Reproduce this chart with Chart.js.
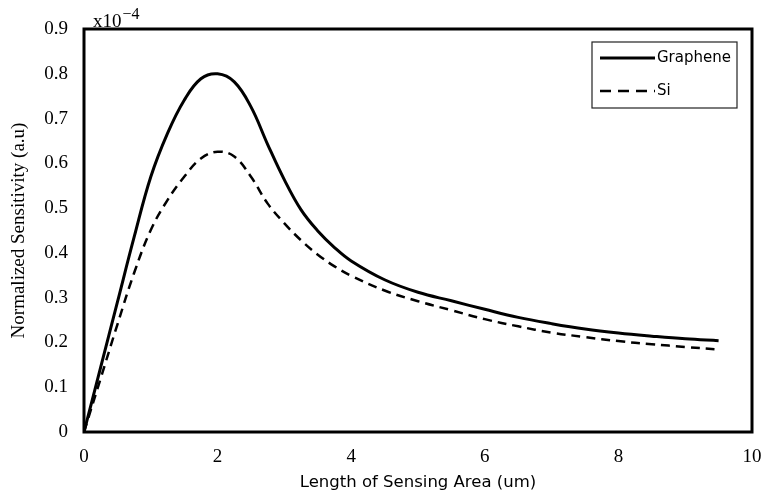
<!DOCTYPE html>
<html>
<head>
<meta charset="utf-8">
<script src="https://cdn.jsdelivr.net/npm/chart.js@4"></script>
<style>
  html, body { margin: 0; padding: 0; background: #fff; }
  #wrap { width: 763px; height: 493px; position: relative; }
</style>
</head>
<body>
<div id="wrap"><canvas id="c" width="763" height="493"></canvas></div>
<script>
// ---- data ----
const xValues = [0, 0.25, 0.5, 0.75, 1, 1.25, 1.5, 1.75, 2, 2.25, 2.5, 2.75, 3, 3.25, 3.5, 3.75, 4, 4.5, 5, 5.5, 6, 6.5, 7, 7.5, 8, 8.5, 9, 9.5];
const grapheneValues = [0, 0.145, 0.29, 0.435, 0.57, 0.667, 0.741, 0.789, 0.800, 0.782, 0.726, 0.642, 0.563, 0.496, 0.449, 0.412, 0.382, 0.340, 0.312, 0.293, 0.274, 0.256, 0.242, 0.230, 0.221, 0.214, 0.208, 0.204];
const siValues = [0, 0.12, 0.24, 0.355, 0.451, 0.518, 0.570, 0.611, 0.626, 0.615, 0.570, 0.510, 0.466, 0.428, 0.396, 0.370, 0.349, 0.316, 0.292, 0.272, 0.252, 0.236, 0.222, 0.212, 0.203, 0.196, 0.190, 0.184];
const seriesNames = ["Graphene", "Si"];
const xTitle = "Length of Sensing Area (um)";
const yTitle = "Normalized Sensitivity (a.u)";
const scaleBase = "x10";
const scaleExp = "\u22124";

const toPoints = (ys) => xValues.map((x, i) => ({ x: x, y: ys[i] }));

const serif = "'Liberation Serif', 'Times New Roman', serif";
const sans = "'DejaVu Sans', Verdana, sans-serif";

const boxPlugin = {
  id: 'boxAndLegend',
  afterDatasetsDraw(chart) {
    const { ctx, chartArea: a } = chart;
    ctx.save();
    // plot frame
    ctx.strokeStyle = '#000';
    ctx.lineWidth = 3;
    ctx.strokeRect(a.left, a.top, a.right - a.left, a.bottom - a.top);

    // exponent note
    ctx.fillStyle = '#000';
    ctx.textBaseline = 'alphabetic';
    ctx.textAlign = 'left';
    ctx.font = "19px " + serif;
    const bx = a.left + 9, by = a.top - 2;
    ctx.fillText(scaleBase, bx, by);
    const w = ctx.measureText(scaleBase).width;
    ctx.font = "16px " + serif;
    ctx.fillText(scaleExp, bx + w + 1, by - 8);

    // legend box
    const lx = 592, ly = 42, lw = 145, lh = 66;
    ctx.lineWidth = 1.2;
    ctx.strokeStyle = '#222';
    ctx.fillStyle = '#fff';
    ctx.fillRect(lx, ly, lw, lh);
    ctx.strokeRect(lx, ly, lw, lh);
    ctx.font = "15px " + sans;
    ctx.textBaseline = 'middle';
    chart.data.datasets.forEach((ds, i) => {
      const yy = ly + 16 + i * 33;
      ctx.beginPath();
      ctx.strokeStyle = ds.borderColor;
      ctx.lineWidth = ds.borderWidth;
      ctx.setLineDash(ds.borderDash ? [11, 7] : []);
      ctx.moveTo(lx + 8, yy);
      ctx.lineTo(lx + 63, yy);
      ctx.stroke();
      ctx.setLineDash([]);
      ctx.fillStyle = '#000';
      ctx.fillText(ds.label, lx + 65, yy);
    });
    ctx.restore();
  }
};

new Chart(document.getElementById('c'), {
  type: 'line',
  data: {
    datasets: [
      {
        label: seriesNames[0],
        data: toPoints(grapheneValues),
        borderColor: '#000',
        borderWidth: 3,
        pointRadius: 0,
        fill: false,
        tension: 0.4
      },
      {
        label: seriesNames[1],
        data: toPoints(siValues),
        borderColor: '#000',
        borderWidth: 2.5,
        borderDash: [9, 6],
        pointRadius: 0,
        fill: false,
        tension: 0.4
      }
    ]
  },
  options: {
    responsive: false,
    animation: false,
    devicePixelRatio: 1,
    layout: { padding: { top: 29, right: 11, left: 0, bottom: 0 } },
    plugins: { legend: { display: false }, tooltip: { enabled: false } },
    scales: {
      x: {
        type: 'linear',
        min: 0, max: 10,
        grid: { display: false, drawTicks: false },
        border: { display: false },
        ticks: { stepSize: 2, color: '#000', padding: 14, maxRotation: 0, autoSkip: false,
                 font: { family: serif, size: 19 } },
        title: { display: true, text: xTitle, color: '#000',
                 font: { family: sans, size: 16.5 }, padding: { top: 4, bottom: 0 } },
        afterFit(s) { s.height = 61; s.paddingRight = 0; s.paddingLeft = 0; }
      },
      y: {
        min: 0, max: 0.9,
        grid: { display: false, drawTicks: false },
        border: { display: false },
        ticks: { stepSize: 0.1, color: '#000', padding: 16,
                 font: { family: serif, size: 19 },
                 callback: (v) => (Math.abs(v) < 1e-9 ? '0' : v.toFixed(1)) },
        title: { display: true, text: yTitle, color: '#000',
                 font: { family: serif, size: 19 }, padding: { top: 8, bottom: 0 } },
        afterFit(s) { s.width = 84; }
      }
    }
  },
  plugins: [boxPlugin]
});
</script>
</body>
</html>
